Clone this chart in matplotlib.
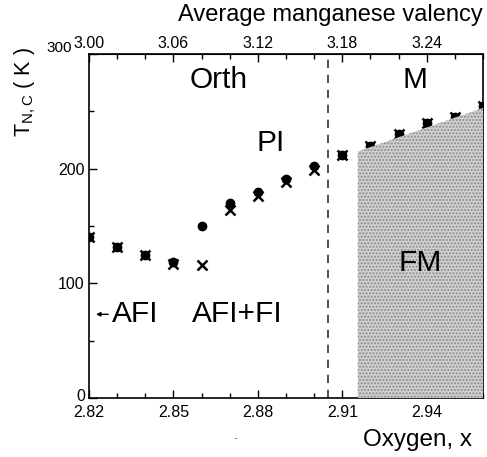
import matplotlib.pyplot as plt
import matplotlib.transforms as mtransforms
from matplotlib.ticker import MultipleLocator

plt.rcParams['font.family'] = ['Liberation Sans', 'DejaVu Sans']
plt.rcParams['mathtext.default'] = 'regular'

# oxygen content and transition temperatures
oxygen = [2.82, 2.83, 2.84, 2.85, 2.86, 2.87, 2.88, 2.89, 2.90, 2.91,
          2.92, 2.93, 2.94, 2.95, 2.96]
t_circle = [140, 132, 125, 119, 150, 170, 180, 191, 202, 212,
            220, 230, 240, 245, 255]
t_cross = [140, 132, 125, 117, 116, 164, 176, 188, 199, 212,
           220, 230, 240, 245, 255]

# orthorhombic / monoclinic boundary
x_struct = 2.905
# ferromagnetic metal region edge
fm_x = [2.9155, 2.96]
fm_top = [215, 253]


def to_valency(x):
    return 3.0 + 2.0 * (x - 2.82)


def to_oxygen(v):
    return 2.82 + (v - 3.0) / 2.0


fig = plt.figure(figsize=(4.87, 4.57), dpi=100)
ax = fig.add_axes([0.1828, 0.1291, 0.809, 0.7527])

ax.plot(oxygen, t_circle, 'o', color='black', markersize=6, zorder=3)
ax.plot(oxygen, t_cross, 'x', color='black', markersize=6.5, mew=1.8, zorder=3)

ax.fill_between(fm_x, [0, 0], fm_top, facecolor='#d0d0d0', hatch='.....',
                edgecolor='#8a8a8a', linewidth=0, zorder=4)

ax.axvline(x_struct, color='#333333', lw=1.2, ls=(0, (5, 4)), zorder=2)

ax.set_xlim(2.82, 2.96)
ax.set_ylim(0, 300)
ax.xaxis.set_major_locator(MultipleLocator(0.03))
ax.xaxis.set_minor_locator(MultipleLocator(0.01))
ax.set_yticks([0, 100, 200, 300])
ax.set_yticklabels(['0', '100', '200', ''])
ax.yaxis.set_minor_locator(MultipleLocator(50))
ax.set_xticks([2.82, 2.85, 2.88, 2.91, 2.94])
ax.set_xticklabels(['2.82', '2.85', '2.88', '2.91', '2.94'])
ax.tick_params(which='both', direction='in', labelsize=11.5, width=1)
ax.tick_params(which='major', length=6)
ax.tick_params(which='minor', length=3.5)
ax.tick_params(axis='y', pad=3)
ax.tick_params(axis='x', pad=5)
for s in ax.spines.values():
    s.set_linewidth(1.2)

# "0" sits a touch above its tick
ylbls = ax.get_yticklabels()
up0 = mtransforms.ScaledTranslation(0, 2 / 72, fig.dpi_scale_trans)
ylbls[0].set_transform(ylbls[0].get_transform() + up0)

# top y label tucked up and left of the corner
ax.annotate('300', xy=(2.82, 300), xytext=(-12, 4.5),
            textcoords='offset points', fontsize=11, ha='right',
            va='center', annotation_clip=False)

top = ax.secondary_xaxis('top', functions=(to_valency, to_oxygen))
top.set_xticks([3.00, 3.06, 3.12, 3.18, 3.24])
top.set_xticklabels(['3.00', '3.06', '3.12', '3.18', '3.24'])
top.xaxis.set_minor_locator(MultipleLocator(0.02))
top.tick_params(which='both', direction='in', labelsize=11.5, width=1, pad=2)
top.tick_params(which='major', length=6)
top.tick_params(which='minor', length=3.5)

# phase labels
ax.text(2.866, 277, 'Orth', fontsize=21.5, ha='center', va='center')
ax.text(2.9357, 277, 'M', fontsize=21.5, ha='center', va='center')
ax.text(2.8846, 222, 'PI', fontsize=21.5, ha='center', va='center')
ax.text(2.8727, 73, 'AFI+FI', fontsize=21.5, ha='center', va='center')
ax.text(2.8282, 73, 'AFI', fontsize=21.5, ha='left', va='center')
ax.text(2.9375, 118, 'FM', fontsize=21.5, ha='center', va='center', zorder=5)
ax.annotate('', xy=(2.8215, 73), xytext=(2.8278, 73),
            arrowprops=dict(arrowstyle='-|>', color='black', lw=1,
                            mutation_scale=6))

fig.text(0.678, 0.967, 'Average manganese valency', fontsize=17,
         ha='center', va='center')
fig.text(0.858, 0.037, 'Oxygen, x', fontsize=17.5, ha='center', va='center')
fig.text(0.051, 0.799, 'T$_{N,C}$ ( K )', fontsize=15.5, rotation=90,
         ha='center', va='center')
fig.text(0.483, 0.042, '-', fontsize=8, color='#666666', ha='center',
         va='center')

fig.savefig('out.png', dpi=100)
